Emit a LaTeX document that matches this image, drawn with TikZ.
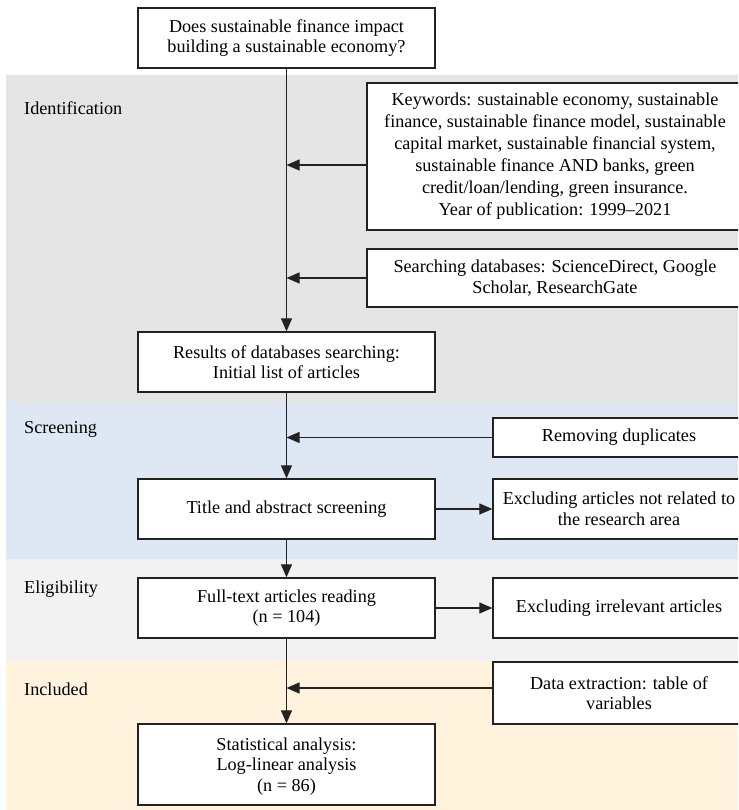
\documentclass[tikz,border=0pt]{standalone}
\usepackage{fontspec}
\setmainfont{Liberation Serif}
\usetikzlibrary{arrows.meta}
\definecolor{bandgray}{HTML}{E5E5E5}
\definecolor{bandblue}{HTML}{DDE8F4}
\definecolor{bandlight}{HTML}{F2F2F2}
\definecolor{bandcream}{HTML}{FFF3DE}
\definecolor{edge}{HTML}{222222}
\begin{document}
\begin{tikzpicture}[x=1pt,y=-1pt,
  box/.style={draw=edge, line width=1.3pt, fill=white, align=center,
    inner sep=2pt, font=\fontsize{18.2}{20.5}\selectfont},
  mainbox/.style={box, minimum width=297pt},
  sidebox/.style={box, minimum width=252pt},
  stage/.style={anchor=west, font=\fontsize{18.2}{20.5}\selectfont, inner sep=0pt},
  flow/.style={draw=edge, line width=1.2pt, -{Triangle[length=13pt,width=11pt]}},
  link/.style={draw=edge, line width=1.2pt}]
\useasboundingbox (0,0) rectangle (738,810);
\clip (0,0) rectangle (738,810);

% stage bands
\fill[bandgray]  (6,75)  rectangle (738,402);
\fill[bandblue]  (6,402) rectangle (738,559);
\fill[bandlight] (6,559) rectangle (738,661);
\fill[bandcream] (6,661) rectangle (738,810);

\node[stage] (lid) at (24,108) {Identification};
\node[stage] (lsc) at (24,429) {Screening};
\node[stage] (lel) at (24,589) {Eligibility};
\node[stage] (lin) at (24,689) {Included};

% main column
\node[mainbox, minimum height=60pt] (q) at (286.5,38)
  {Does sustainable finance impact\\building a sustainable economy?};
\node[mainbox, minimum height=60pt] (res) at (286.5,362)
  {Results of databases searching:\\Initial list of articles};
\node[mainbox, minimum height=60pt] (tas) at (286.5,509)
  {Title and abstract screening};
\node[mainbox, minimum height=60pt] (ft) at (286.5,608)
  {Full-text articles reading\\(n = 104)};
\node[mainbox, minimum height=81pt, text depth=-6pt] (sa) at (286.5,764.5)
  {Statistical analysis:\\Log-linear analysis\\(n = 86)};

% side boxes
\node[box, minimum width=376pt, minimum height=147pt, font=\fontsize{18.2}{22}\selectfont] (kw) at (555,156.5)
  {Keywords: sustainable economy, sustainable\\
   finance, sustainable finance model, sustainable\\
   capital market, sustainable financial system,\\
   sustainable finance AND banks, green\\
   credit/loan/lending, green insurance.\\
   Year of publication: 1999--2021};
\node[box, minimum width=376pt, minimum height=58pt] (sd) at (555,278)
  {Searching databases: ScienceDirect, Google\\Scholar, ResearchGate};
\node[sidebox, minimum height=39pt] (rd) at (619,437.5) {Removing duplicates};
\node[sidebox, minimum height=60pt] (exa) at (619,509)
  {Excluding articles not related to\\the research area};
\node[sidebox, minimum height=60pt] (exi) at (619,608) {Excluding irrelevant articles};
\node[sidebox, minimum height=62pt] (de) at (619,693)
  {Data extraction: table of\\variables};

% junction points on the main column
\coordinate (jkw) at (q.south |- 0,165);
\coordinate (jsd) at (q.south |- sd.west);
\coordinate (jrd) at (q.south |- rd.west);
\coordinate (jde) at (q.south |- 0,688);

% connectors
\path[link] (q.south) -- (jkw);
\path[flow] (jkw) -- (res.north);
\path[flow] (kw.west |- jkw) -- (jkw);
\path[flow] (sd.west) -- (jsd);
\path[flow] (res.south) -- (tas.north);
\path[flow] (rd.west) -- (jrd);
\path[flow] (tas.east) -- (exa.west);
\path[flow] (tas.south) -- (ft.north);
\path[flow] (ft.east) -- (exi.west);
\path[flow] (ft.south) -- (sa.north);
\path[flow] (de.west |- jde) -- (jde);
\end{tikzpicture}
\end{document}
